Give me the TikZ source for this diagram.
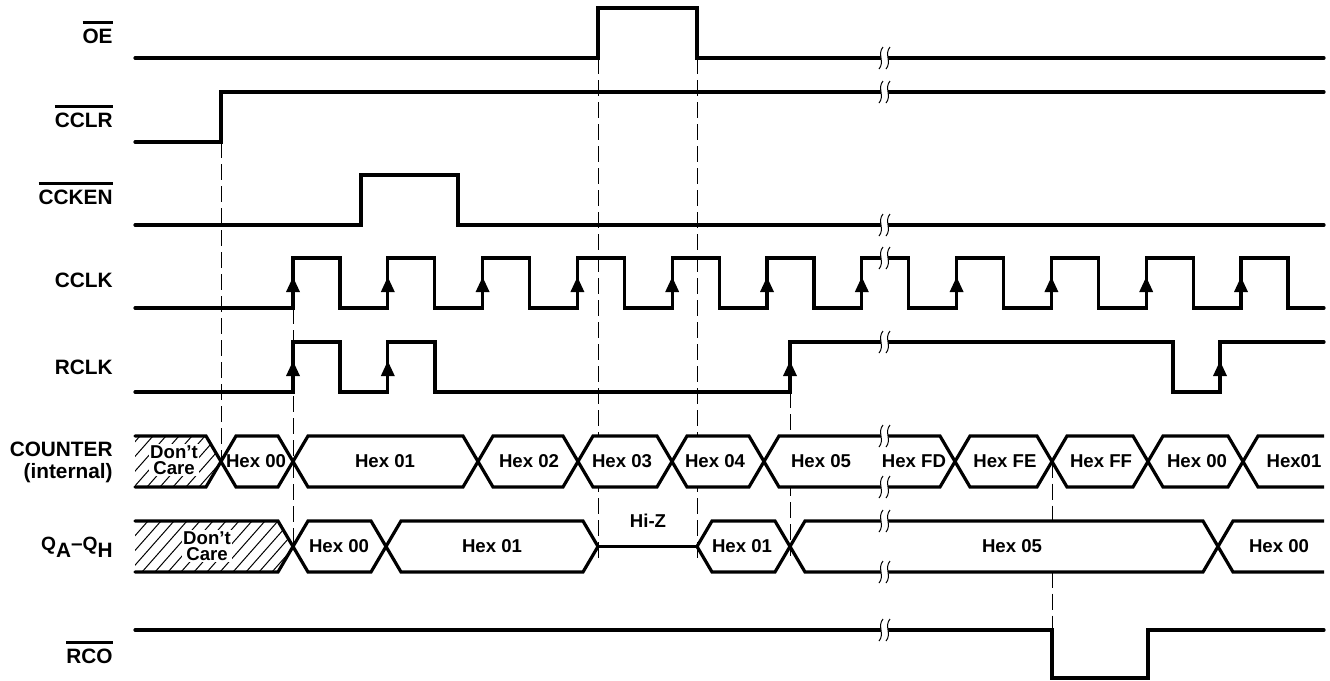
\documentclass[tikz,border=0pt]{standalone}
\usepackage{fontspec}
\setmainfont{Liberation Sans}
\usepackage{tikz}

% bar over an active-low signal name
\newcommand{\lowact}[1]{\vbox{\hrule height 1.3pt\kern 2.2pt\hbox{#1}}}

% one bus value between two crossings (left x, right x, middle y)
\newcommand{\busval}[3]{%
  \filldraw[bus] (#1,#3) -- (#1+15,#3-25.5) -- (#2-15,#3-25.5) -- (#2,#3)
    -- (#2-15,#3+25.5) -- (#1+15,#3+25.5) -- cycle;}

% two wavy strokes where the time axis is cut
\newcommand{\cutmark}[2]{%
  \fill[white] (#1+2,#2-11) .. controls (#1-4,#2-4) and (#1+4,#2+4) .. (#1-2,#2+11)
    -- (#1+5,#2+11) .. controls (#1+11,#2+4) and (#1+3,#2-4) .. (#1+9,#2-11) -- cycle;
  \draw[cutline] (#1+2,#2-11) .. controls (#1-4,#2-4) and (#1+4,#2+4) .. (#1-2,#2+11);
  \draw[cutline] (#1+9,#2-11) .. controls (#1+3,#2-4) and (#1+11,#2+4) .. (#1+5,#2+11);}

\begin{document}
\begin{tikzpicture}[x=0.5pt, y=-0.5pt,
  wave/.style={line width=1.6pt, line cap=round},
  bus/.style={line width=1.6pt, fill=white},
  guide/.style={line width=0.5pt, dash pattern=on 8pt off 3pt},
  hatch/.style={line width=0.5pt},
  cutline/.style={line width=0.5pt},
  siglabel/.style={font=\bfseries\fontsize{10.4}{12}\selectfont, inner sep=0pt},
  bustext/.style={font=\bfseries\fontsize{9.3}{8.2}\selectfont, inner sep=0pt}]

  \useasboundingbox (0,0) rectangle (1330,681);

  % Signal names on the left
  \node[siglabel, anchor=base east] (lbloe) at (113,43) {\lowact{OE}};
  \node[siglabel, anchor=base east] (lblcclr) at (113,127) {\lowact{CCLR}};
  \node[siglabel, anchor=base east] (lblccken) at (113,204) {\lowact{CCKEN}};
  \node[siglabel, anchor=base east] (lblcclk) at (113,287) {CCLK};
  \node[siglabel, anchor=base east] (lblrclk) at (113,374) {RCLK};
  \node[siglabel, anchor=base east] (lblcount) at (113,456) {COUNTER};
  \node[siglabel, anchor=base east] (lblint) at (113,478) {(internal)};
  \node[siglabel, anchor=base east] (lblq) at (113,550)
    {{\fontsize{9.6}{10}\selectfont Q}\raisebox{-3.5pt}{A}–{\fontsize{9.6}{10}\selectfont Q}\raisebox{-3.5pt}{H}};
  \node[siglabel, anchor=base east] (lblrco) at (113,663) {\lowact{RCO}};

  % Dashed timing references
  \draw[guide] (221,142) -- (221,461.5);
  \draw[guide] (293,308) -- (293,546.5);
  \draw[guide] (598,58) -- (598,560);
  \draw[guide] (697,58) -- (697,560);
  \draw[guide] (790,392) -- (790,556);
  \draw[guide] (1052,461.5) -- (1052,630);

  % Control waveforms
  \draw[wave] (135,58) -- (598,58) -- (598,8) -- (697,8) -- (697,58) -- (1324,58);
  \draw[wave] (135,142) -- (221,142) -- (221,92) -- (1324,92);
  \draw[wave] (135,225) -- (361,225) -- (361,175) -- (458,175) -- (458,225) -- (1324,225);
  \draw[wave] (135,308) \foreach \k in {0,...,10} {
      -- (293+94.8*\k,308) -- ++(0,-50) -- ++(47,0) -- ++(0,50) } -- (1324,308);
  \draw[wave] (135,392) -- (293,392) -- (293,342) -- (340,342) -- (340,392)
    -- (387.8,392) -- (387.8,342) -- (435,342) -- (435,392) -- (790,392) -- (790,342)
    -- (1173,342) -- (1173,392) -- (1220,392) -- (1220,342) -- (1324,342);
  \draw[wave] (135,630) -- (1052,630) -- (1052,678) -- (1148,678) -- (1148,630) -- (1324,630);

  % Active clock edges
  \foreach \k in {0,...,10}
    \fill (293+94.8*\k,277) -- ++(7,15) -- ++(-14,0) -- cycle;
  \foreach \x in {293,387.8,790,1220}
    \fill (\x,361) -- ++(7,15) -- ++(-14,0) -- cycle;

  % Counter bus
  \begin{scope}
    \clip (135,436) -- (206,436) -- (221,461.5) -- (206,487) -- (135,487) -- cycle;
    \foreach \x in {95,108,...,230} \draw[hatch] (\x,487) -- (\x+45,436);
  \end{scope}
  \draw[wave] (135,436) -- (206,436) -- (221,461.5) -- (206,487) -- (135,487);
  \foreach \l/\r in {221/293, 293/478, 478/578, 578/672, 672/764, 764/955,
      955/1052, 1052/1148, 1148/1243}
    {\busval{\l}{\r}{461.5}}
  \filldraw[bus] (1324,436) -- (1258,436) -- (1243,461.5) -- (1258,487) -- (1324,487);

  % Output bus
  \begin{scope}
    \clip (135,521) -- (278,521) -- (293,546.5) -- (278,572) -- (135,572) -- cycle;
    \foreach \x in {90,103,...,300} \draw[hatch] (\x,572) -- (\x+45,521);
  \end{scope}
  \draw[wave] (135,521) -- (278,521) -- (293,546.5) -- (278,572) -- (135,572);
  \foreach \l/\r in {293/386, 386/598, 697/790, 790/1218}
    {\busval{\l}{\r}{546.5}}
  \draw[wave] (598,546.5) -- (697,546.5);
  \filldraw[bus] (1324,521) -- (1233,521) -- (1218,546.5) -- (1233,572) -- (1324,572);

  % Bus values
  \node[bustext, fill=white, inner sep=0.5pt, align=center] (cntdc) at (174,460) {Don’t\\Care};
  \foreach \x/\t/\n in {256/Hex 00/cnt00, 385/Hex 01/cnt01, 529/Hex 02/cnt02,
      622/Hex 03/cnt03, 715/Hex 04/cnt04, 821/Hex 05/cnt05, 914/Hex FD/cntfd,
      1005/Hex FE/cntfe, 1101/Hex FF/cntff, 1197/Hex 00/cnt00b, 1294/Hex01/cnt01b}
    \node[bustext] (\n) at (\x,461.5) {\t};
  \node[bustext, fill=white, inner sep=0.5pt, align=center] (qdc) at (207,546) {Don’t\\Care};
  \foreach \x/\t/\n in {339/Hex 00/q00, 492/Hex 01/q01, 742/Hex 01/q01b,
      1012/Hex 05/q05, 1279/Hex 00/q00b}
    \node[bustext] (\n) at (\x,546.5) {\t};
  \node[bustext] (hiz) at (648,521) {Hi-Z};

  % Time axis cut
  \foreach \y in {58,92,225,258,342,436,487,521,572,630}
    {\cutmark{881}{\y}}

\end{tikzpicture}
\end{document}
